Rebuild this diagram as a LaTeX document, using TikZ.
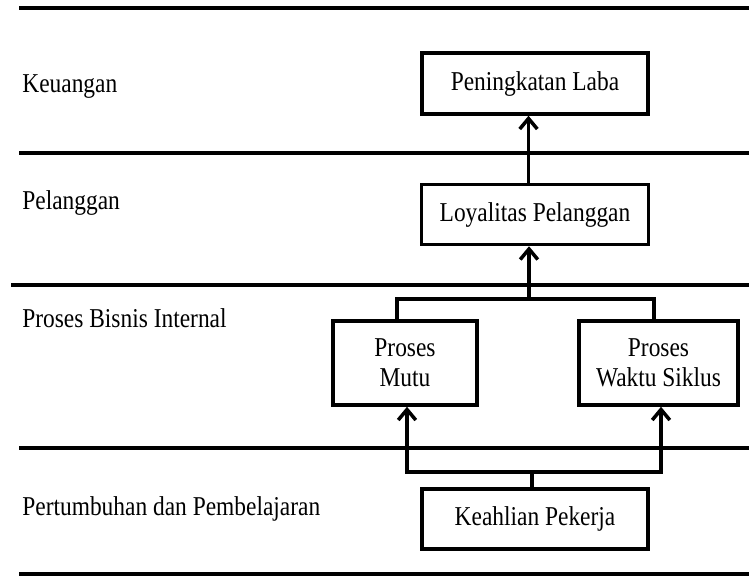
\documentclass[tikz,border=0pt]{standalone}
\usepackage{fontspec}
\setmainfont[FakeStretch=0.86]{Liberation Serif}
\usepackage{tikz}
\usetikzlibrary{arrows.meta,positioning}

\tikzset{
  lane/.style={line width=1.8pt},
  box/.style={draw, line width=2pt, align=center, inner sep=0pt},
  lab/.style={anchor=base west, inner sep=0pt},
  conn/.style={line width=2pt},
  barb/.tip={Straight Barb[length=6pt,width=10pt,line width=2pt]},
  arr/.style={conn, -barb},
  arrs/.style={conn, barb-barb}
}

\begin{document}
\begin{tikzpicture}[x=0.02cm, y=-0.02cm, font=\fontsize{15.5}{17}\selectfont]
	\useasboundingbox (0,0) rectangle (749,576);
	% perspective lanes
	\foreach \y/\x in {8/19,153/19,285/11,448/19,574/19}
		\draw[lane] (\x,\y) -- (749,\y);
	\node[lab] (keu) at (22,92) {Keuangan};
	\node[lab] (pel) at (22,209) {Pelanggan};
	\node[lab] (pbi) at (22,327) {Proses Bisnis Internal};
	\node[lab] (pdp) at (22,515) {Pertumbuhan dan Pembelajaran};
	% objectives
	\node[box, minimum width=4.52cm, minimum height=1.22cm] (laba) at (535,83.5) {Peningkatan Laba};
	\node[box, minimum width=4.54cm, minimum height=1.2cm, below=1.34cm of laba] (loyal) {Loyalitas Pelanggan};
	\node[box, minimum width=2.88cm, minimum height=1.68cm] (mutu) at (405,363) {Proses\\Mutu};
	\node[box, minimum width=3.18cm, minimum height=1.68cm] (waktu) at (658.5,363) {Proses\\Waktu Siklus};
	\node[box, minimum width=4.52cm, minimum height=1.2cm] (ahli) at (535,519) {Keahlian Pekerja};
	% links
	\coordinate (tl) at (397,299);
	\coordinate (tm) at (529,299);
	\coordinate (tr) at (654,299);
	\coordinate (bl) at (407,472);
	\coordinate (bm) at (532,472);
	\coordinate (br) at (661,472);
	\draw[arr] ([xshift=-0.13cm]loyal.north) -- ([xshift=-0.13cm]laba.south);
	\draw[arr] (tm) -- (loyal.south -| tm);
	\draw[conn] (mutu.north -| tl) -- (tl) -- (tr) -- (waktu.north -| tr);
	\draw[arrs] (mutu.south -| bl) -- (bl) -- (br) -- (waktu.south -| br);
	\draw[conn] (ahli.north -| bm) -- (bm);
\end{tikzpicture}
\end{document}
